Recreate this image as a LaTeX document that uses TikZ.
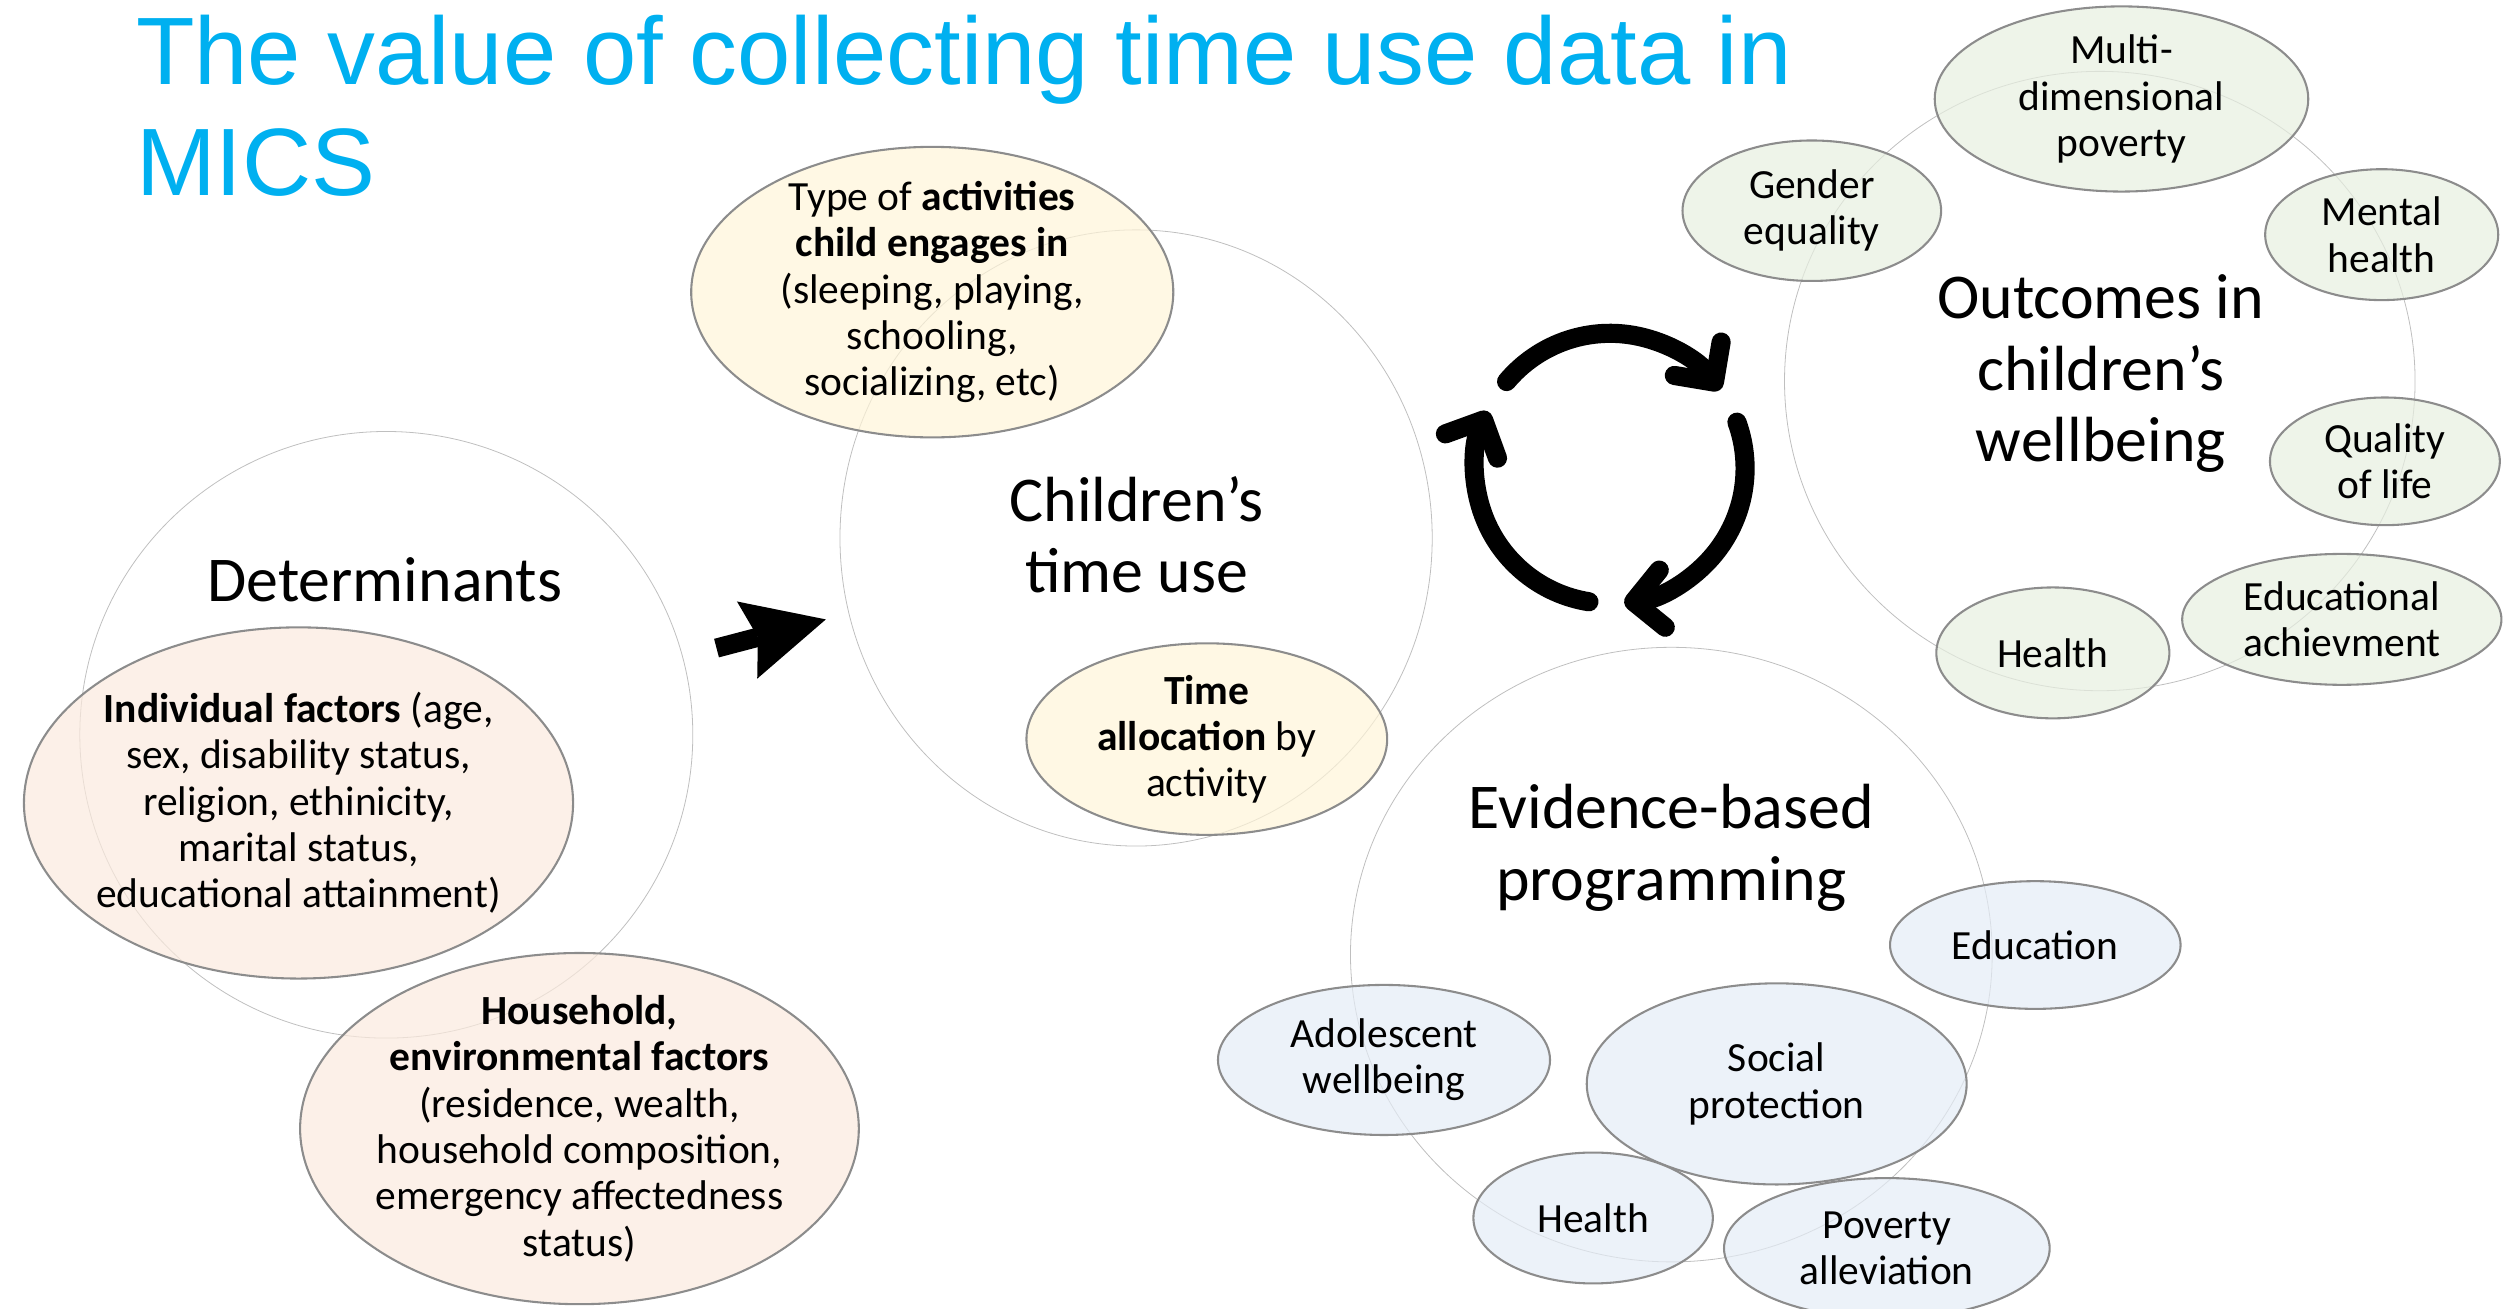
\documentclass[tikz,border=0pt]{standalone}
\usepackage{fontspec}
\setmainfont{Carlito}
\newfontfamily\titlefont{Liberation Sans}
\usetikzlibrary{shapes.geometric,arrows.meta}
\definecolor{micsblue}{HTML}{00B0F0}
\definecolor{detfill}{HTML}{FBEADE}
\definecolor{usefill}{HTML}{FFF5D8}
\definecolor{outfill}{HTML}{E7EFE0}
\definecolor{progfill}{HTML}{E4ECF6}
\tikzset{
  bubble/.style={ellipse,draw=black!25,line width=0.5pt,inner sep=0pt,outer sep=0pt},
  blob/.style={ellipse,draw=black!45,line width=1.3pt,fill opacity=0.7,text opacity=1,
    inner sep=-100pt,align=center,font=\fontsize{26}{29}\selectfont},
  detblob/.style={blob,fill=detfill},
  useblob/.style={blob,fill=usefill},
  outblob/.style={blob,fill=outfill},
  progblob/.style={blob,fill=progfill},
  biglabel/.style={align=center,inner sep=0pt,font=\fontsize{40}{45}\selectfont},
  titletext/.style={anchor=north west,align=left,inner sep=0pt,text=micsblue,
    font=\titlefont\fontsize{60}{69}\selectfont},
  cycarrow/.style={line width=12pt,line cap=round,-{Straight Barb[length=18pt,width=36pt,round]}},
  pusharrow/.style={line width=12pt,-{Stealth[length=51pt,width=50pt,inset=7pt,line width=0pt]}}
}
\begin{document}
\begin{tikzpicture}[x=1pt,y=1pt]
    \useasboundingbox (0,0) rectangle (1568,-819.4);
    \node[titletext] (title) at (85,-9.5) {The value of collecting time use data in\\MICS};

    \node[bubble,minimum width=384pt,minimum height=380pt] (detC) at (242,-460.3) {};
    \node[bubble,minimum width=371pt,minimum height=386pt] (useC) at (711.7,-337) {};
    \node[bubble,minimum width=395pt,minimum height=388pt] (outC) at (1315.4,-238.7) {};
    \node[bubble,minimum width=402pt,minimum height=385pt] (progC) at (1047,-598) {};

    \node[biglabel] (detL) at (241,-363) {Determinants};
    \node[biglabel] (useL) at (712,-335) {Children’s\\time use};
    \node[biglabel] (outL) at (1316,-234) {Outcomes in\\children’s\\wellbeing};
    \node[biglabel] (progL) at (1047,-531) {Evidence-based\\programming};

    \node[detblob,minimum width=344pt,minimum height=220pt] (indiv) at (187,-503)
        {\textbf{Individual factors} (age,\\sex, disability status,\\religion, ethinicity,\\marital status,\\educational attainment)};
    \node[detblob,minimum width=350pt,minimum height=220pt] (house) at (363,-707)
        {\textbf{Household,}\\\textbf{environmental factors}\\(residence, wealth,\\household composition,\\emergency affectedness\\status)};

    \node[useblob,minimum width=302pt,minimum height=182pt] (types) at (584,-183)
        {Type of \textbf{activities}\\\textbf{child engages in}\\(sleeping, playing,\\schooling,\\socializing, etc)};
    \node[useblob,minimum width=226pt,minimum height=120pt] (alloc) at (756,-463)
        {\textbf{Time}\\\textbf{allocation} by\\activity};

    \node[outblob,minimum width=162pt,minimum height=88pt] (gender) at (1135,-132) {Gender\\equality};
    \node[outblob,minimum width=234pt,minimum height=116pt] (multi) at (1329,-62) {Multi-\\dimensional\\poverty};
    \node[outblob,minimum width=146pt,minimum height=82pt] (mental) at (1492,-147) {Mental\\health};
    \node[outblob,minimum width=144pt,minimum height=80pt] (quality) at (1494,-289) {Quality\\of life};
    \node[outblob,minimum width=200pt,minimum height=82pt] (achieve) at (1467,-388) {Educational\\achievment};
    \node[outblob,minimum width=146pt,minimum height=82pt] (ohealth) at (1286,-409) {Health};

    \node[progblob,minimum width=182pt,minimum height=80pt] (educ) at (1275,-592) {Education};
    \node[progblob,minimum width=208pt,minimum height=94pt] (adol) at (867,-664) {Adolescent\\wellbeing};
    \node[progblob,minimum width=238pt,minimum height=126pt] (social) at (1113,-679) {Social\\protection};
    \node[progblob,minimum width=150pt,minimum height=82pt] (phealth) at (998,-763) {Health};
    \node[progblob,minimum width=204pt,minimum height=88pt] (pov) at (1182,-782) {Poverty\\alleviation};

    \draw[pusharrow,shorten <=22pt,shorten >=15pt] (detC) -- (useC);

    \coordinate (cyc) at (1008.6,-293.4);
    \draw[cycarrow] ([shift={(140:84.6pt)}]cyc) arc[start angle=140,end angle=35.5,radius=84.6pt];
    \draw[cycarrow] ([shift={(20:84.6pt)}]cyc) arc[start angle=20,end angle=-84,radius=84.6pt];
    \draw[cycarrow] ([shift={(261:84.6pt)}]cyc) arc[start angle=261,end angle=155,radius=84.6pt];
\end{tikzpicture}
\end{document}
